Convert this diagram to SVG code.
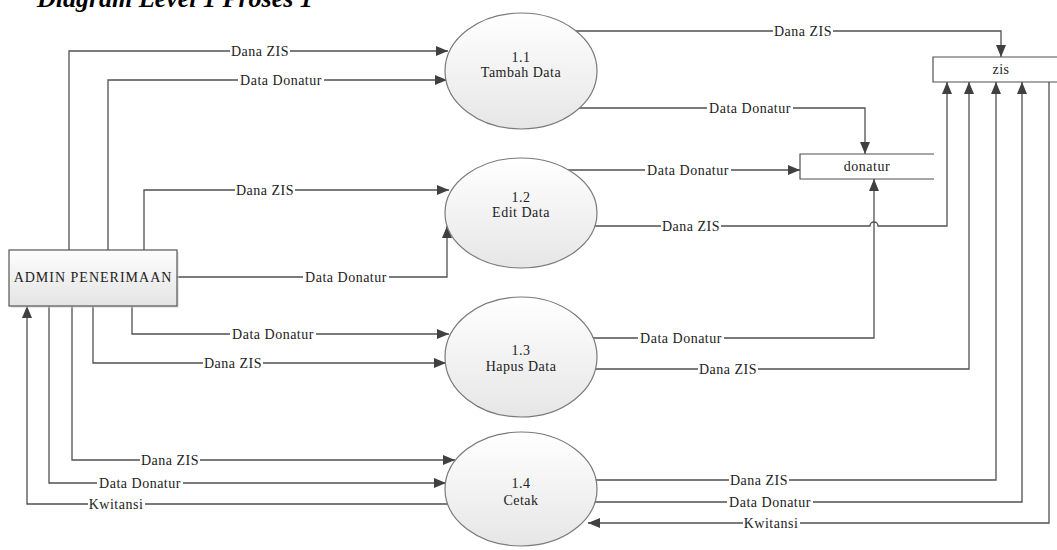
<svg xmlns="http://www.w3.org/2000/svg" width="1057" height="550" viewBox="0 0 1057 550">
<style>
.ln{fill:none;stroke:#505050;stroke-width:1.3}
.t{font-family:"Liberation Serif","Times New Roman",serif;font-size:14px;letter-spacing:0.5px;fill:#222;text-anchor:middle}
.bg{fill:#fff}
.proc{fill:url(#gp);stroke:#7a7a7a;stroke-width:1.2}
.store{fill:none;stroke:#505050;stroke-width:1.2}
.title{font-family:"Liberation Serif","Times New Roman",serif;font-size:26px;font-weight:bold;font-style:italic;fill:#000}
</style>
<defs>
<linearGradient id="gp" x1="0" y1="0" x2="0" y2="1">
<stop offset="0" stop-color="#ffffff"/>
<stop offset="1" stop-color="#e6e6e6"/>
</linearGradient>
<linearGradient id="gb" x1="0" y1="0" x2="0" y2="1">
<stop offset="0" stop-color="#fdfdfd"/>
<stop offset="1" stop-color="#e4e4e4"/>
</linearGradient>
<marker id="ar" viewBox="0 0 12 10" refX="12" refY="5" markerWidth="12" markerHeight="10" markerUnits="userSpaceOnUse" orient="auto">
<path d="M0,0 L12,5 L0,10 z" fill="#404040"/>
</marker>
</defs>

<text class="title" x="37" y="7">Diagram Level 1 Proses 1</text>

<g id="connectors">
<path class="ln" d="M69,250 V51 H448" marker-end="url(#ar)"/>
<path class="ln" d="M108,250 V80 H447" marker-end="url(#ar)"/>
<path class="ln" d="M144,250 V190 H449" marker-end="url(#ar)"/>
<path class="ln" d="M177,277 H447 V226" marker-end="url(#ar)"/>
<path class="ln" d="M132,306 V334 H449" marker-end="url(#ar)"/>
<path class="ln" d="M93,306 V363 H446" marker-end="url(#ar)"/>
<path class="ln" d="M72,306 V460 H455" marker-end="url(#ar)"/>
<path class="ln" d="M49,306 V483 H446" marker-end="url(#ar)"/>
<path class="ln" d="M521,504 H27 V306" marker-end="url(#ar)"/>

<path class="ln" d="M521,31 H1001 V57" marker-end="url(#ar)"/>
<path class="ln" d="M521,108 H865 V154" marker-end="url(#ar)"/>
<path class="ln" d="M521,170 H800" marker-end="url(#ar)"/>
<path class="ln" d="M521,226 H870 A4,4 0 0 1 878,226 H947 V82" marker-end="url(#ar)"/>
<path class="ln" d="M521,338 H874 V179" marker-end="url(#ar)"/>
<path class="ln" d="M521,369 H969 V82" marker-end="url(#ar)"/>
<path class="ln" d="M521,480 H996 V82" marker-end="url(#ar)"/>
<path class="ln" d="M521,502 H1022 V82" marker-end="url(#ar)"/>
<path class="ln" d="M1049,82 V523 H588" marker-end="url(#ar)"/>

<g id="labels">
<rect class="bg" x="230" y="44" width="60" height="14"/><text class="t" x="260" y="56">Dana ZIS</text>
<rect class="bg" x="238" y="73" width="86" height="14"/><text class="t" x="281" y="85">Data Donatur</text>
<rect class="bg" x="235" y="183" width="60" height="14"/><text class="t" x="265" y="195">Dana ZIS</text>
<rect class="bg" x="303" y="270" width="86" height="14"/><text class="t" x="346" y="282">Data Donatur</text>
<rect class="bg" x="230" y="327" width="86" height="14"/><text class="t" x="273" y="339">Data Donatur</text>
<rect class="bg" x="203" y="356" width="60" height="14"/><text class="t" x="233" y="368">Dana ZIS</text>
<rect class="bg" x="140" y="453" width="60" height="14"/><text class="t" x="170" y="465">Dana ZIS</text>
<rect class="bg" x="97" y="476" width="86" height="14"/><text class="t" x="140" y="488">Data Donatur</text>
<rect class="bg" x="88" y="497" width="57" height="14"/><text class="t" x="116" y="509">Kwitansi</text>

<rect class="bg" x="773" y="24" width="60" height="14"/><text class="t" x="803" y="36">Dana ZIS</text>
<rect class="bg" x="707" y="101" width="86" height="14"/><text class="t" x="750" y="113">Data Donatur</text>
<rect class="bg" x="645" y="163" width="86" height="14"/><text class="t" x="688" y="175">Data Donatur</text>
<rect class="bg" x="661" y="219" width="60" height="14"/><text class="t" x="691" y="231">Dana ZIS</text>
<rect class="bg" x="638" y="331" width="86" height="14"/><text class="t" x="681" y="343">Data Donatur</text>
<rect class="bg" x="698" y="362" width="60" height="14"/><text class="t" x="728" y="374">Dana ZIS</text>
<rect class="bg" x="729" y="473" width="60" height="14"/><text class="t" x="759" y="485">Dana ZIS</text>
<rect class="bg" x="727" y="495" width="86" height="14"/><text class="t" x="770" y="507">Data Donatur</text>
<rect class="bg" x="743" y="516" width="57" height="14"/><text class="t" x="771" y="528">Kwitansi</text>
</g>
</g>

<g id="admin">
<rect x="11" y="252" width="168" height="56" fill="#cfcfcf" opacity="0.5"/>
<rect x="9" y="250" width="168" height="56" fill="url(#gb)" stroke="#555" stroke-width="1.2"/>
<text class="t" x="93" y="282" style="letter-spacing:1px">ADMIN PENERIMAAN</text>
</g>

<g id="p11">
<ellipse class="proc" cx="521" cy="71" rx="76" ry="58"/>
<text class="t" x="521" y="62">1.1</text>
<text class="t" x="521" y="77">Tambah Data</text>
</g>
<g id="p12">
<ellipse class="proc" cx="521" cy="213" rx="76" ry="55"/>
<text class="t" x="521" y="202">1.2</text>
<text class="t" x="521" y="217">Edit Data</text>
</g>
<g id="p13">
<ellipse class="proc" cx="521" cy="357" rx="76" ry="60"/>
<text class="t" x="521" y="355">1.3</text>
<text class="t" x="521" y="371">Hapus Data</text>
</g>
<g id="p14">
<ellipse class="proc" cx="521" cy="489" rx="76" ry="57"/>
<text class="t" x="521" y="488">1.4</text>
<text class="t" x="521" y="505">Cetak</text>
</g>

<g id="donatur">
<path class="store" d="M934,154 H800 V179 H934"/>
<text class="t" x="867" y="171">donatur</text>
</g>
<g id="zis">
<path class="store" d="M1057,57 H933 V82 H1057"/>
<text class="t" x="1001" y="74">zis</text>
</g>
</svg>
